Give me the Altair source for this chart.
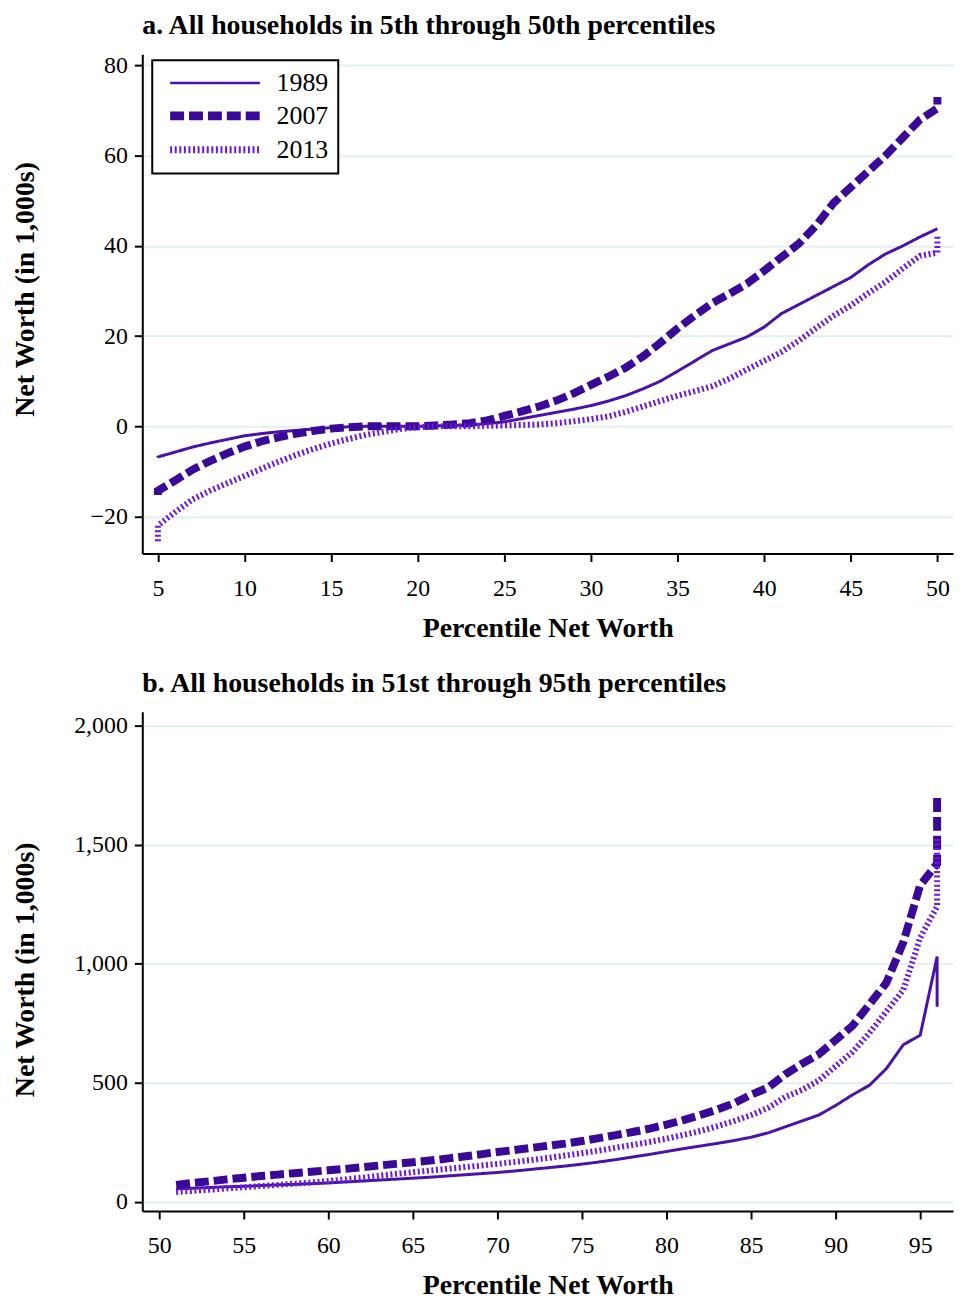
import altair as alt
import pandas as pd

YEARS = ["1989", "2007", "2013"]
COLORS = ["#4a12aa", "#3a0997", "#6d17dc"]
DASHES = [[1, 0], [14, 5], [2, 2.6]]

# Panel a: 5th through 50th percentiles (net worth in $1,000s)
pct_a = [5, 5, 6, 7, 8, 9, 10, 11, 12, 13, 14, 15, 16, 17, 18, 19, 20, 21, 22, 23,
         24, 25, 26, 27, 28, 29, 30, 31, 32, 33, 34, 35, 36, 37, 38, 39, 40, 41, 42,
         43, 44, 45, 46, 47, 48, 49, 50, 50]
a_1989 = [-6.9, -6.8, -5.7, -4.6, -3.7, -2.9, -2.1, -1.6, -1.2, -0.9, -0.6, -0.3, -0.1,
          0, 0, 0, 0, 0.1, 0.2, 0.3, 0.6, 1.0, 1.7, 2.4, 3.1, 3.8, 4.6, 5.6, 6.8, 8.3,
          10.0, 12.2, 14.5, 16.8, 18.3, 19.8, 22.0, 25.0, 27.0, 29.0, 31.0, 33.0, 35.8,
          38.2, 40.0, 42.0, 43.8, 43.8]
a_2007 = [-15.2, -14.3, -12.0, -9.6, -7.7, -6.0, -4.5, -3.3, -2.4, -1.6, -1.0, -0.5,
          -0.2, 0, 0, 0, 0, 0.2, 0.4, 0.7, 1.3, 2.3, 3.3, 4.4, 5.7, 7.3, 9.2, 11.0, 13.0,
          15.5, 18.5, 21.7, 24.6, 27.3, 29.4, 31.6, 34.5, 37.5, 40.5, 44.5, 49.5, 53.0,
          56.5, 60.0, 64.0, 68.0, 70.5, 73.0]
a_2013 = [-25.5, -22.0, -19.0, -16.2, -14.3, -12.6, -11.0, -9.4, -7.8, -6.3, -5.0, -3.8,
          -2.8, -1.9, -1.2, -0.6, -0.2, 0, 0, 0, 0.1, 0.2, 0.3, 0.4, 0.7, 1.1, 1.6, 2.2,
          3.2, 4.4, 5.6, 6.8, 7.8, 8.9, 10.6, 12.6, 14.5, 16.5, 19.0, 21.8, 24.5, 26.8,
          29.5, 32.0, 35.0, 37.8, 38.5, 42.0]

# Panel b: 51st through 95th percentiles (net worth in $1,000s)
pct_b = [51, 52, 53, 54, 55, 56, 57, 58, 59, 60, 61, 62, 63, 64, 65, 66, 67, 68, 69, 70,
         71, 72, 73, 74, 75, 76, 77, 78, 79, 80, 81, 82, 83, 84, 85, 86, 87, 88, 89, 90,
         91, 92, 93, 94, 95, 96, 96]
b_1989 = [55, 58, 61, 64, 66, 69, 72, 74, 77, 80, 84, 88, 92, 96, 100, 104, 109, 114, 119,
          124, 130, 137, 144, 151, 159, 168, 178, 189, 200, 212, 224, 235, 246, 258, 272,
          290, 315, 340, 365, 405, 450, 490, 560, 660, 700, 1030, 820]
b_2007 = [72, 80, 87, 95, 102, 109, 115, 121, 127, 133, 139, 146, 153, 160, 167, 174, 182,
          191, 200, 210, 218, 227, 236, 245, 256, 268, 281, 294, 308, 325, 344, 365, 388,
          415, 450, 480, 535, 580, 620, 680, 740, 830, 920, 1090, 1330, 1420, 1700]
b_2013 = [42, 47, 52, 57, 62, 67, 72, 77, 82, 88, 95, 102, 110, 118, 125, 132, 139, 146,
          153, 160, 168, 176, 185, 195, 205, 216, 228, 240, 252, 266, 282, 298, 318, 340,
          365, 395, 440, 470, 510, 570, 630, 710, 800, 890, 1110, 1240, 1530]

xticks_a = [5, 10, 15, 20, 25, 30, 35, 40, 45, 50]
yticks_a = [-20, 0, 20, 40, 60, 80]
xticks_b = [50, 55, 60, 65, 70, 75, 80, 85, 90, 95]
yticks_b = [0, 500, 1000, 1500, 2000]

FONT = "Liberation Serif"


def frame(pct, series):
    rows = []
    for year, vals in zip(YEARS, series):
        assert len(vals) == len(pct), (year, len(vals), len(pct))
        for i, (p, v) in enumerate(zip(pct, vals)):
            rows.append({"pct": p, "nw": v, "year": year, "idx": i})
    return pd.DataFrame(rows)


def panel(df, title, xdom, ydom, xticks, yticks, yfmt, title_y):
    leg = alt.Legend(orient="none", legendX=10, legendY=6, title=None)
    return alt.Chart(
        df,
        title=alt.Title(title, anchor="start", frame="group", font=FONT, fontSize=28,
                        fontWeight="bold", color="black", offset=14),
    ).mark_line(strokeCap="butt", strokeJoin="miter").encode(
        x=alt.X("pct:Q",
                scale=alt.Scale(domain=xdom, nice=False, zero=False),
                axis=alt.Axis(values=xticks, title="Percentile Net Worth", grid=False,
                              format="d")),
        y=alt.Y("nw:Q",
                scale=alt.Scale(domain=ydom, nice=False, zero=False),
                axis=alt.Axis(values=yticks, format=yfmt, title="Net Worth (in 1,000s)",
                              titleX=-103, titleY=title_y, grid=True)),
        color=alt.Color("year:N", scale=alt.Scale(domain=YEARS, range=COLORS),
                        legend=leg),
        strokeDash=alt.StrokeDash("year:N", scale=alt.Scale(domain=YEARS, range=DASHES),
                                  legend=leg),
        strokeWidth=alt.StrokeWidth("sw:Q", scale=None, legend=None),
        order=alt.Order("idx:Q"),
    ).transform_calculate(
        sw="datum.year == '1989' ? 3 : (datum.year == '2007' ? 8 : 6)"
    ).properties(width=815, height=502)


top = panel(frame(pct_a, [a_1989, a_2007, a_2013]),
            "a. All households in 5th through 50th percentiles",
            [4.1, 50.9], [-28.2, 82.5], xticks_a, yticks_a, "d", 236)
bottom = panel(frame(pct_b, [b_1989, b_2007, b_2013]),
               "b. All households in 51st through 95th percentiles",
               [49.0, 96.94], [-38, 2058], xticks_b, yticks_b, ",d", 259)

chart = alt.vconcat(top, bottom, spacing=28).properties(
    padding={"left": 4, "top": 0, "right": 0, "bottom": 0}
).configure_view(stroke=None).configure_axis(
    domainColor="black", domainWidth=2, tickColor="black", tickWidth=2, tickSize=8,
    labelFont=FONT, labelFontSize=24, labelColor="black", labelPadding=7,
    titleFont=FONT, titleFontSize=28, titleFontWeight="bold", titleColor="black",
    gridColor="#dff1ea", gridWidth=2,
).configure_axisX(labelPadding=15, titlePadding=14).configure_legend(
    labelFont=FONT, labelFontSize=26, labelColor="black",
    strokeColor="black", strokeWidth=2, fillColor="white", padding=10,
    symbolType="M-1,0L7.2,0", symbolSize=484,
    symbolStrokeWidth=alt.ExprRef(
        "datum.value == '2007' ? 9 : (datum.value == '2013' ? 7 : 2.5)"),
    labelOffset=83, rowPadding=2, symbolOffset=6,
)

chart.save("out.html", embed_options={"renderer": "svg", "actions": False})
